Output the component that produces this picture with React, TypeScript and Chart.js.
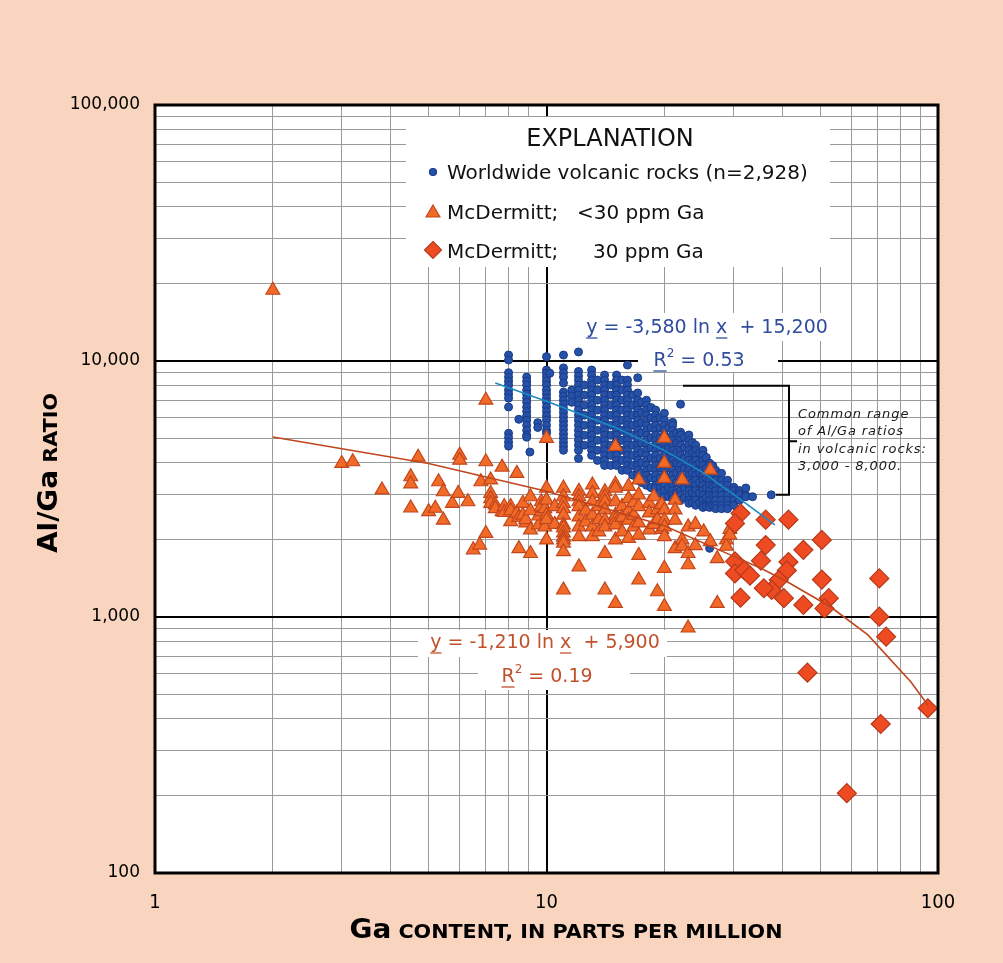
import React, { useEffect, useRef } from 'react';
import { Chart, registerables } from 'chart.js';

Chart.register(...registerables);

// ---------------- DATA ----------------
// Worldwide volcanic rocks: Ga (ppm) columns and Al/Ga ratios
const worldGa = [8.0, 8.5, 8.9, 9.07, 9.5, 10, 10.2, 11.05, 11.6, 12.07, 12.5, 13.04, 13.5, 14.07, 14.6, 15.1, 15.6, 16.1, 16.6, 17.1, 17.5, 18.0, 18.5, 19.0, 19.5, 20.0, 20.5, 21.0, 21.5, 22.0, 22.5, 23.1, 23.6, 24.05, 24.6, 25.1, 25.6, 26.1, 26.6, 27.05, 28.0, 29.0, 30.1, 31.1, 32.3, 33.6, 37.5];
const worldRatios: number[][] = [
  [10550, 10090, 9000, 8650, 8340, 8050, 7700, 7430, 7160, 6610, 5220, 5020, 4820, 4650],
  [5920],
  [8650, 8340, 8050, 7700, 7430, 7160, 6900, 6610, 6350, 6100, 5870, 5610, 5360, 5130, 5040],
  [4410],
  [5740, 5500],
  [10400, 9220, 8960, 8650, 8340, 8050, 7700, 7430, 7160, 6900, 6610, 6350, 6100, 5870, 5610, 5360, 5220],
  [8960],
  [10550, 9400, 9000, 8650, 8200, 7560, 7300, 7030, 6780, 6530, 6290, 6050, 5830, 5610, 5400, 5190, 5000, 4810, 4640, 4480],
  [7700, 7300, 6900],
  [10850, 9100, 8730, 8400, 8050, 7700, 7360, 7030, 6720, 6430, 6140, 5870, 5610, 5360, 5130, 4900, 4690, 4480, 4160],
  [8050, 7360, 6720, 6140, 5610, 5130, 4690],
  [9220, 8810, 8420, 8050, 7700, 7360, 7030, 6720, 6430, 6140, 5870, 5610, 5360, 5130, 4900, 4690, 4480, 4280],
  [8420, 7700, 7030, 6430, 5870, 5360, 4900, 4480, 4090],
  [8810, 8420, 8050, 7700, 7360, 7030, 6720, 6430, 6140, 5870, 5610, 5360, 5130, 4900, 4690, 4480, 4280, 4090, 3910],
  [8050, 7360, 6720, 6140, 5610, 5130, 4690, 4280, 3910],
  [8810, 8420, 8050, 7700, 7360, 7030, 6720, 6430, 6140, 5870, 5610, 5360, 5130, 4900, 4690, 4480, 4280, 4090, 3910],
  [8420, 7700, 7030, 6430, 5870, 5360, 4900, 4480, 4090, 3740],
  [9640, 8420, 8050, 7700, 7360, 7030, 6720, 6430, 6140, 5870, 5610, 5360, 5130, 4900, 4690, 4480, 4280, 4090, 3910, 3740],
  [7360, 6720, 6140, 5610, 5130, 4690, 4280, 3910, 3580],
  [8600, 7500, 7030, 6720, 6430, 6140, 5870, 5610, 5360, 5130, 4900, 4690, 4480, 4280, 4090, 3910, 3740, 3580, 3420],
  [6900, 6290, 5740, 5240, 4790, 4380, 4000, 3660, 3350],
  [7030, 6720, 6430, 6140, 5870, 5610, 5360, 5130, 4900, 4690, 4480, 4280, 4090, 3910, 3740, 3580, 3420, 3270],
  [6580, 6000, 5490, 5010, 4580, 4180, 3820, 3500, 3200],
  [6430, 6140, 5870, 5610, 5360, 5130, 4900, 4690, 4480, 4280, 4090, 3910, 3740, 3580, 3420, 3270, 3190],
  [6000, 5490, 5010, 4580, 4180, 3820, 3500, 3200, 3050],
  [6250, 5870, 5610, 5360, 5130, 4900, 4690, 4480, 4280, 4090, 3910, 3740, 3580, 3420, 3270, 3120, 2950],
  [5490, 5010, 4580, 4180, 3820, 3500, 3200, 2950],
  [5760, 5610, 5360, 5130, 4900, 4690, 4480, 4280, 4090, 3910, 3740, 3580, 3420, 3270, 3120, 2990, 2900],
  [5240, 4790, 4380, 4000, 3660, 3350, 3050, 2930],
  [6780, 5270, 5130, 4900, 4690, 4480, 4280, 4090, 3910, 3740, 3580, 3420, 3270, 3120, 2990, 2860],
  [5030, 4580, 4180, 3820, 3500, 3200, 2930],
  [5140, 4900, 4690, 4480, 4280, 4090, 3910, 3740, 3580, 3420, 3270, 3120, 2990, 2860, 2780],
  [4800, 4380, 4000, 3660, 3350, 3050, 2800],
  [4690, 4480, 4280, 4090, 3910, 3740, 3580, 3420, 3270, 3120, 2990, 2860, 2730],
  [4370, 4000, 3660, 3350, 3050, 2790],
  [4370, 4480, 4280, 4090, 3910, 3740, 3580, 3420, 3270, 3120, 2990, 2860, 2730, 2680],
  [4200, 3820, 3500, 3200, 2930, 2700],
  [3990, 3910, 3740, 3580, 3420, 3270, 3120, 2990, 2860, 2730, 2680, 1855],
  [3900, 3560, 3260, 2980, 2720],
  [3740, 3580, 3420, 3270, 3120, 2990, 2860, 2730, 2650],
  [3640, 3420, 3270, 3120, 2990, 2860, 2730, 2650],
  [3420, 3270, 3120, 2990, 2860, 2730, 2650],
  [3210, 3120, 2990, 2860, 2730],
  [3120, 3050, 2990, 2860],
  [3190, 2990, 2950],
  [2950],
  [3000],
];

// McDermitt, <30 ppm Ga (triangles)
const lowGa = [2.0, 3.0, 3.2, 3.8, 4.5, 4.7, 5.0, 5.2, 5.3, 5.45, 5.75, 5.95, 6.0, 6.3, 6.5, 6.75, 6.8, 7.0, 7.2, 7.4, 7.7, 7.8, 8.1, 8.4, 8.5, 8.7, 8.85, 9.1, 9.55, 9.7, 9.9, 10.0, 10.5, 11.05, 12.1, 12.6, 13.1, 13.6, 14.1, 15.0, 15.6, 16.2, 16.7, 17.2, 18.3, 18.8, 19.2, 19.7, 20.0, 21.3, 22.2, 23.0, 24.0, 25.2, 26.2, 27.3, 28.8, 29.4];
const lowRatios: number[][] = [
  [18900], [3980], [4040], [3135], [3530, 3310, 2665], [4210], [2580], [2660], [3375], [3085, 2390],
  [2780], [3040], [4290, 4100], [2820], [1830], [1910], [3375], [7030, 4040, 2120], [3430, 3040, 2900, 2780], [2740, 2650],
  [3850, 2580], [2700, 2560], [2700, 2360, 2600], [3640, 2550], [1850, 2450], [2780, 2500], [2330, 2400], [2950, 2190, 1770, 2600], [2290, 2480], [2580, 2820, 2700],
  [2650, 2250], [4990, 3190, 2860, 2000, 2500, 2400], [2700, 2300],
  [3190, 2950, 2780, 2650, 2500, 2290, 2230, 2130, 2050, 2000, 1945, 1800, 1275],
  [3100, 2950, 2820, 2700, 2460, 2250, 2060, 1570], [2600, 2350],
  [3280, 3040, 2820, 2500, 2250, 2060], [2700, 2400, 2150],
  [3085, 2950, 2820, 2620, 2390, 2250, 1770, 1275],
  [4640, 3300, 3190, 2820, 2500, 2390, 2290, 2000, 1130], [2700, 2450, 2150],
  [3240, 2900, 2600, 2390, 2030], [2800, 2500, 2250],
  [3430, 3000, 2700, 2330, 2090, 1740, 1395], [2780, 2550, 2190], [2950, 2300], [2620, 2400, 1255], [2750, 2200],
  [5000, 3990, 3480, 2620, 2390, 2250, 2060, 1550, 1100], [2860, 2620, 2390, 1850], [3430, 2000, 1890],
  [2250, 1770, 1600, 906], [2300, 1900], [2150], [3750, 1970], [1690, 1130], [2000, 1890], [2200, 2090],
];

// McDermitt, >=30 ppm Ga (diamonds)
const highGa = [31.3, 30.3, 36.3, 41.5, 36.3, 35.3, 30.3, 30.3, 32.0, 33.1, 31.3, 41.5, 41.1, 39.2, 37.6, 35.9, 40.4, 45.3, 50.5, 50.5, 45.3, 52.6, 51.3, 70.8, 70.8, 73.7, 46.4, 94.2, 71.4, 58.5];
const highRatio = [2540, 2320, 2400, 2400, 1910, 1660, 1650, 1480, 1525, 1450, 1190, 1640, 1520, 1395, 1275, 1295, 1185, 1830, 2000, 1400, 1115, 1185, 1080, 1415, 1003, 838, 606, 440, 382, 205];

// Trend lines as drawn
const worldTrendGa = [7.4, 10, 15, 20, 25, 30, 38.3];
const worldTrendRatio = [8200, 6960, 5500, 4475, 3680, 3020, 2290];
const mcTrendGa = [2, 5, 10, 20, 28.7, 35.3, 41.3, 53.2, 66.2, 85.3, 94.2];
const mcTrendRatio = [5050, 3980, 3100, 2270, 1780, 1550, 1370, 1094, 851, 557, 453];

const xTickLabels = [1, 10, 100];
const yTickLabels = [100, 1000, 10000, 100000];
const commonRange = [3000, 8000];

// ---------------- STYLE ----------------
const PEACH = '#F9D5BF';
const BLUE_FILL = '#2551A6';
const BLUE_EDGE = '#1A3A8A';
const TRI_FILL = '#F26A28';
const TRI_EDGE = '#C2461C';
const DIA_FILL = '#EE4B22';
const DIA_EDGE = '#B5381A';
const BLUE_TEXT = '#2F4C9E';
const RED_TEXT = '#C2512B';

function isPow10(v: number) {
  const l = Math.log10(v);
  return Math.abs(l - Math.round(l)) < 1e-9;
}

function gridValues(min: number, max: number) {
  const out: number[] = [];
  for (let d = min; d < max; d *= 10) {
    for (let m = 1; m < 10; m++) out.push(d * m);
  }
  out.push(max);
  return out;
}

type Part = { t: string; u?: boolean; sup?: boolean };

function drawParts(ctx: CanvasRenderingContext2D, parts: Part[], cx: number, base: number, font: string, supFont: string, color: string) {
  const widths = parts.map((p) => {
    ctx.font = p.sup ? supFont : font;
    return ctx.measureText(p.t).width;
  });
  const total = widths.reduce((a, b) => a + b, 0);
  let x = cx - total / 2;
  ctx.fillStyle = color;
  ctx.strokeStyle = color;
  ctx.textAlign = 'left';
  ctx.textBaseline = 'alphabetic';
  parts.forEach((p, i) => {
    ctx.font = p.sup ? supFont : font;
    ctx.fillText(p.t, x, p.sup ? base - 9 : base);
    if (p.u) {
      ctx.lineWidth = 1.3;
      ctx.beginPath();
      ctx.moveTo(x, base + 5);
      ctx.lineTo(x + widths[i], base + 5);
      ctx.stroke();
    }
    x += widths[i];
  });
}

function drawTitle(ctx: CanvasRenderingContext2D, big: string, small: string, targetW: number) {
  const bigFont = 'bold 27px "DejaVu Sans", sans-serif';
  const smallFont = 'bold 20px "DejaVu Sans", sans-serif';
  ctx.font = bigFont;
  const w1 = ctx.measureText(big).width;
  ctx.font = smallFont;
  const w2 = ctx.measureText(small).width;
  const s = targetW / (w1 + w2);
  ctx.scale(s, 1);
  const x0 = -(w1 + w2) / 2;
  ctx.fillStyle = '#000';
  ctx.textAlign = 'left';
  ctx.textBaseline = 'alphabetic';
  ctx.font = bigFont;
  ctx.fillText(big, x0, 0);
  ctx.font = smallFont;
  ctx.fillText(small, x0 + w1, 0);
}

function marker(ctx: CanvasRenderingContext2D, kind: string, x: number, y: number) {
  ctx.save();
  ctx.beginPath();
  if (kind === 'dot') {
    ctx.arc(x, y, 3.5, 0, Math.PI * 2);
    ctx.fillStyle = BLUE_FILL;
    ctx.strokeStyle = BLUE_EDGE;
  } else if (kind === 'tri') {
    const r = 8;
    ctx.moveTo(x, y - r);
    ctx.lineTo(x + r * 0.866, y + r * 0.5);
    ctx.lineTo(x - r * 0.866, y + r * 0.5);
    ctx.closePath();
    ctx.fillStyle = TRI_FILL;
    ctx.strokeStyle = TRI_EDGE;
  } else {
    const r = 8.5;
    ctx.moveTo(x, y - r);
    ctx.lineTo(x + r, y);
    ctx.lineTo(x, y + r);
    ctx.lineTo(x - r, y);
    ctx.closePath();
    ctx.fillStyle = DIA_FILL;
    ctx.strokeStyle = DIA_EDGE;
  }
  ctx.lineWidth = 1.2;
  ctx.fill();
  ctx.stroke();
  ctx.restore();
}

const overlayPlugin = {
  id: 'overlay',
  beforeDraw(chart: any) {
    const { ctx, chartArea: a } = chart;
    ctx.save();
    ctx.fillStyle = '#fff';
    ctx.fillRect(a.left, a.top, a.right - a.left, a.bottom - a.top);
    ctx.restore();
  },
  afterDatasetsDraw(chart: any) {
    const { ctx } = chart;
    const ys = chart.scales.y;
    ctx.save();

    // Legend box
    ctx.fillStyle = '#fff';
    ctx.fillRect(406, 117, 424, 150);
    ctx.fillStyle = '#111';
    ctx.font = '24px "DejaVu Sans", sans-serif';
    ctx.textAlign = 'center';
    ctx.textBaseline = 'alphabetic';
    ctx.fillText('EXPLANATION', 610, 146);
    ctx.textAlign = 'left';
    ctx.font = '20px "DejaVu Sans", sans-serif';
    ctx.fillText('Worldwide volcanic rocks (n=2,928)', 447, 179);
    ctx.fillText('McDermitt;', 447, 219);
    ctx.fillText('<30 ppm Ga', 577, 219);
    ctx.fillText('McDermitt;', 447, 258);
    ctx.fillText('30 ppm Ga', 593, 258);
    marker(ctx, 'dot', 433, 172);
    marker(ctx, 'tri', 433, 213);
    marker(ctx, 'dia', 433, 250);

    // Equation boxes
    ctx.fillStyle = '#fff';
    ctx.fillRect(578, 313, 270, 28);
    ctx.fillRect(638, 341, 140, 31);
    ctx.fillRect(418, 630, 249, 27);
    ctx.fillRect(478, 657, 152, 33);

    const eqFont = '19px "DejaVu Sans", sans-serif';
    const supFont = '12px "DejaVu Sans", sans-serif';
    drawParts(ctx, [{ t: 'y', u: true }, { t: ' = -3,580 ln ' }, { t: 'x', u: true }, { t: '  + 15,200' }], 707, 333, eqFont, supFont, BLUE_TEXT);
    drawParts(ctx, [{ t: 'R', u: true }, { t: '2', sup: true }, { t: ' = 0.53' }], 699, 366, eqFont, supFont, BLUE_TEXT);
    drawParts(ctx, [{ t: 'y', u: true }, { t: ' = -1,210 ln ' }, { t: 'x', u: true }, { t: '  + 5,900' }], 545, 648, eqFont, supFont, RED_TEXT);
    drawParts(ctx, [{ t: 'R', u: true }, { t: '2', sup: true }, { t: ' = 0.19' }], 547, 682, eqFont, supFont, RED_TEXT);

    // Common range bracket
    const yLo = ys.getPixelForValue(commonRange[0]);
    const yHi = ys.getPixelForValue(commonRange[1]);
    ctx.strokeStyle = '#000';
    ctx.lineWidth = 2;
    ctx.beginPath();
    ctx.moveTo(683, yHi);
    ctx.lineTo(789, yHi);
    ctx.lineTo(789, yLo);
    ctx.lineTo(776, yLo);
    ctx.moveTo(789, (yHi + yLo) / 2 + 1);
    ctx.lineTo(797, (yHi + yLo) / 2 + 1);
    ctx.stroke();

    ctx.fillStyle = '#1a1a1a';
    ctx.font = 'italic 13px "DejaVu Sans", sans-serif';
    (ctx as any).letterSpacing = '0.9px';
    ctx.textAlign = 'left';
    ctx.fillText('Common range', 798, 418);
    ctx.fillText('of Al/Ga ratios', 798, 435);
    ctx.fillText('in volcanic rocks:', 798, 453);
    ctx.fillText('3,000 - 8,000.', 798, 470);
    (ctx as any).letterSpacing = '0px';
    ctx.restore();
  },
  afterDraw(chart: any) {
    const { ctx, chartArea: a } = chart;
    ctx.save();
    ctx.strokeStyle = '#000';
    ctx.lineWidth = 3;
    ctx.strokeRect(a.left, a.top, a.right - a.left, a.bottom - a.top);

    // x title
    ctx.save();
    ctx.translate(566, 938);
    drawTitle(ctx, 'Ga', ' CONTENT, IN PARTS PER MILLION', 433);
    ctx.restore();
    // y title
    ctx.save();
    ctx.translate(57, 473);
    ctx.rotate(-Math.PI / 2);
    drawTitle(ctx, 'Al/Ga', ' RATIO', 160);
    ctx.restore();
    ctx.restore();
  },
};

function toPoints(gas: number[], ratios: number[][]) {
  return gas.flatMap((g, i) => ratios[i].map((r) => ({ x: g, y: r })));
}

export default function App() {
  const ref = useRef<HTMLCanvasElement | null>(null);

  useEffect(() => {
    if (!ref.current) return;
    const gridColor = (c: any) => (c.tick && isPow10(c.tick.value) ? '#000' : '#9a9a9a');
    const gridWidth = (c: any) => (c.tick && isPow10(c.tick.value) ? 2 : 1);

    const chart = new Chart(ref.current, {
      type: 'scatter',
      data: {
        datasets: [
          {
            label: 'world trend',
            data: worldTrendGa.map((g, i) => ({ x: g, y: worldTrendRatio[i] })),
            showLine: true,
            borderColor: '#1A8CC2',
            borderWidth: 1.6,
            pointRadius: 0,
            tension: 0,
          } as any,
          {
            label: 'McDermitt trend',
            data: mcTrendGa.map((g, i) => ({ x: g, y: mcTrendRatio[i] })),
            showLine: true,
            borderColor: '#C0461E',
            borderWidth: 1.6,
            pointRadius: 0,
            tension: 0,
          } as any,
          {
            label: 'McDermitt; >=30 ppm Ga',
            data: highGa.map((g, i) => ({ x: g, y: highRatio[i] })),
            pointStyle: 'rectRot',
            pointRadius: 9.5,
            backgroundColor: DIA_FILL,
            borderColor: DIA_EDGE,
            borderWidth: 1.2,
          },
          {
            label: 'McDermitt; <30 ppm Ga',
            data: toPoints(lowGa, lowRatios),
            pointStyle: 'triangle',
            pointRadius: 8,
            backgroundColor: TRI_FILL,
            borderColor: TRI_EDGE,
            borderWidth: 1.2,
          },
          {
            label: 'Worldwide volcanic rocks (n=2,928)',
            data: toPoints(worldGa, worldRatios),
            pointStyle: 'circle',
            pointRadius: 4,
            backgroundColor: BLUE_FILL,
            borderColor: BLUE_EDGE,
            borderWidth: 1,
          },
        ],
      },
      options: {
        responsive: false,
        animation: false,
        devicePixelRatio: 1,
        layout: { padding: { top: 105, right: 65, left: 0, bottom: 0 } },
        plugins: { legend: { display: false }, tooltip: { enabled: false } },
        scales: {
          x: {
            type: 'logarithmic',
            min: 1,
            max: 100,
            afterBuildTicks: (s: any) => {
              s.ticks = gridValues(1, 100).map((v) => ({ value: v }));
            },
            afterFit: (s: any) => {
              s.height = 90;
            },
            grid: { color: gridColor, lineWidth: gridWidth, drawTicks: false },
            border: { display: false },
            ticks: {
              autoSkip: false,
              maxRotation: 0,
              padding: 18,
              color: '#000',
              font: { family: '"Liberation Sans Narrow", "DejaVu Sans Condensed", "Liberation Sans", sans-serif', size: 20 },
              callback: (v: any) => (xTickLabels.includes(Number(v)) ? String(v) : ''),
            },
          },
          y: {
            type: 'logarithmic',
            min: 100,
            max: 100000,
            afterBuildTicks: (s: any) => {
              s.ticks = gridValues(100, 100000).map((v) => ({ value: v }));
            },
            afterFit: (s: any) => {
              s.width = 155;
            },
            grid: { color: gridColor, lineWidth: gridWidth, drawTicks: false },
            border: { display: false },
            ticks: {
              autoSkip: false,
              padding: 15,
              color: '#000',
              font: { family: '"DejaVu Sans", sans-serif', size: 17 },
              callback: (v: any) => (yTickLabels.includes(Number(v)) ? Number(v).toLocaleString('en-US') : ''),
            },
          },
        },
      } as any,
      plugins: [overlayPlugin],
    });
    return () => chart.destroy();
  }, []);

  return (
    <div style={{ position: 'absolute', left: 0, top: 0, width: 1003, height: 963, background: PEACH, overflow: 'hidden' }}>
      <canvas ref={ref} width={1003} height={963} style={{ display: 'block', width: 1003, height: 963 }} />
    </div>
  );
}
